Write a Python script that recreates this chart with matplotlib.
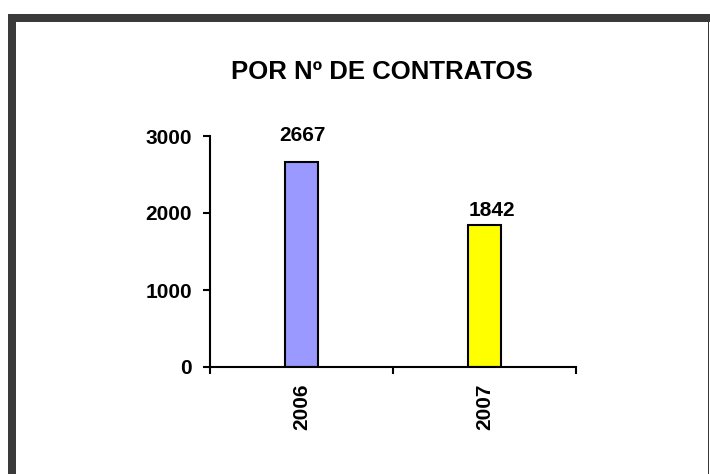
import numpy as np
import matplotlib.pyplot as plt
from matplotlib.patches import Rectangle

years = ['2006', '2007']
contratos = [2667, 1842]
colores = ['#9999FF', '#FFFF00']
y_ticks = [0, 1000, 2000, 3000]

plt.rcParams['font.family'] = ['Liberation Sans', 'DejaVu Sans']
plt.rcParams['font.weight'] = 'bold'

fig = plt.figure(figsize=(7.1, 4.74), dpi=100)
fig.patch.set_facecolor('white')

# marco gris oscuro (arriba e izquierda gruesos, derecha fino)
borde = '#3a3a3a'
fig.patches.append(Rectangle((8/710, 0), 8/710, 1 - 14/474, transform=fig.transFigure,
                             facecolor=borde, edgecolor='none', zorder=5))
fig.patches.append(Rectangle((8/710, 1 - 22/474), 1 - 8/710, 8/474, transform=fig.transFigure,
                             facecolor=borde, edgecolor='none', zorder=5))
fig.patches.append(Rectangle((708/710, 0), 1.2/710, 1 - 14/474, transform=fig.transFigure,
                             facecolor=borde, edgecolor='none', zorder=5))

ax = fig.add_axes([210/710, 1 - 367/474, 366/710, 231/474])
x = np.arange(len(years))
bars = ax.bar(x, contratos, width=0.18, color=colores, edgecolor='black', linewidth=1.5)

# etiquetas de valor (Excel las coloca a distinta altura)
desplaz = [(1, 12), (5, 4)]
for xi, v, d in zip(x, contratos, desplaz):
    ax.annotate(str(v), (xi, v), xytext=d, textcoords='offset points',
                ha='center', va='bottom', fontsize=15, fontweight='bold')

ax.set_xlim(-0.5, 1.5)
ax.set_ylim(0, 3000)
ax.set_yticks(y_ticks)
ax.set_yticklabels([str(t) for t in y_ticks], fontsize=15, fontweight='bold')
ax.set_xticks([-0.5, 0.5, 1.5], minor=False)
ax.set_xticklabels([])
ax.set_xticks(x, minor=True)
ax.set_xticklabels(years, minor=True, rotation=90, fontsize=15, fontweight='bold')
ax.tick_params(axis='x', which='minor', length=0, pad=12)
ax.tick_params(axis='x', which='major', length=5, width=1.5, direction='out')
ax.tick_params(axis='y', length=5, width=1.5, direction='out', pad=8)

for s in ['top', 'right']:
    ax.spines[s].set_visible(False)
for s in ['left', 'bottom']:
    ax.spines[s].set_linewidth(1.5)

fig.text(382/710, 1 - 72/474, 'POR Nº DE CONTRATOS', ha='center', va='center',
         fontsize=18.5, fontweight='bold')

fig.savefig('out.png', dpi=100)
